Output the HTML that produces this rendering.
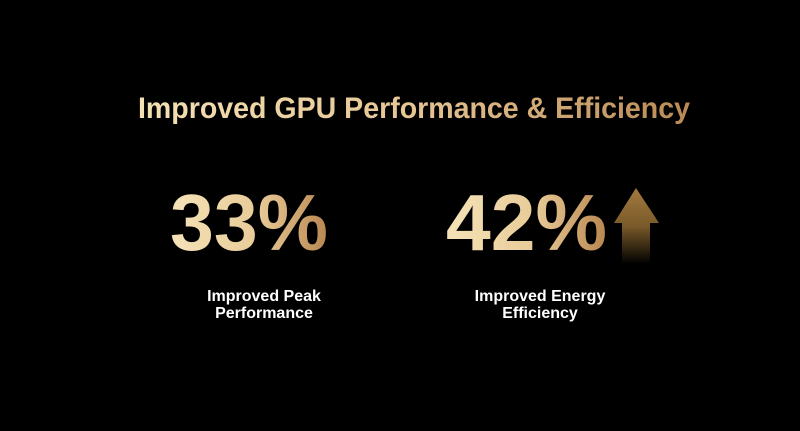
<!DOCTYPE html>
<html><head><style>
html,body{margin:0;padding:0;background:#000;}
svg{display:block}
text{font-family:"Liberation Sans",Arial,sans-serif;font-weight:bold;}
</style></head><body>
<svg width="800" height="431" viewBox="0 0 800 431" xmlns="http://www.w3.org/2000/svg">
<defs>
<linearGradient id="tg" x1="138" y1="0" x2="690" y2="0" gradientUnits="userSpaceOnUse">
<stop offset="0" stop-color="#f3e1b4"/><stop offset="0.5" stop-color="#e6c594"/><stop offset="1" stop-color="#b98a55"/>
</linearGradient>
<linearGradient id="g1" x1="170" y1="0" x2="330" y2="0" gradientUnits="userSpaceOnUse">
<stop offset="0" stop-color="#f5e3b8"/><stop offset="0.55" stop-color="#e8cb98"/><stop offset="1" stop-color="#b8854e"/>
</linearGradient>
<linearGradient id="g2" x1="446" y1="0" x2="608" y2="0" gradientUnits="userSpaceOnUse">
<stop offset="0" stop-color="#f5e3b8"/><stop offset="0.55" stop-color="#e8cb98"/><stop offset="1" stop-color="#b8854e"/>
</linearGradient>
<linearGradient id="ag" x1="0" y1="188" x2="0" y2="264" gradientUnits="userSpaceOnUse">
<stop offset="0" stop-color="#a27a3e"/><stop offset="0.5" stop-color="#7a5a2a"/><stop offset="1" stop-color="#000"/>
</linearGradient>
</defs>
<rect width="800" height="431" fill="#000"/>
<text x="138" y="118" font-size="30" fill="url(#tg)" textLength="552" lengthAdjust="spacingAndGlyphs">Improved GPU Performance &amp; Efficiency</text>
<text x="170" y="250" font-size="80" fill="url(#g1)" textLength="158" lengthAdjust="spacingAndGlyphs">33%</text>
<text x="446" y="250" font-size="80" fill="url(#g2)" textLength="161" lengthAdjust="spacingAndGlyphs">42%</text>
<polygon points="636,188 659,223 650,223 650,264 622,264 622,223 614,223" fill="url(#ag)"/>
<g fill="#fff" font-size="16" text-anchor="middle">
<text x="264" y="301">Improved Peak</text>
<text x="264" y="318">Performance</text>
<text x="540" y="301">Improved Energy</text>
<text x="540" y="318">Efficiency</text>
</g>
</svg>
</body></html>
